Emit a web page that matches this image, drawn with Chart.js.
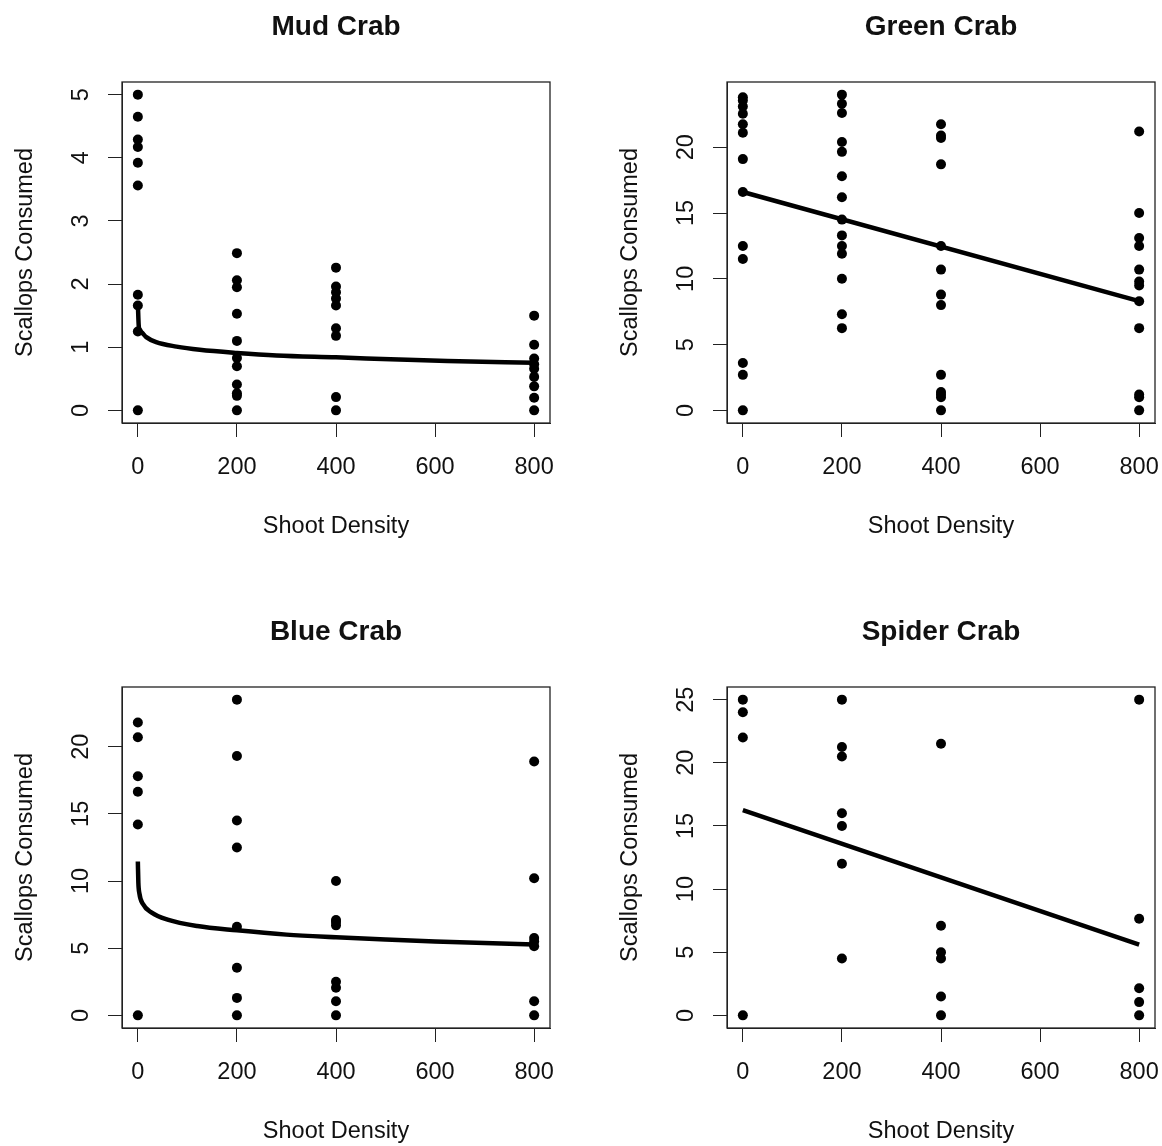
<!DOCTYPE html>
<html>
<head>
<meta charset="utf-8">
<script src="https://cdn.jsdelivr.net/npm/chart.js@4.4.1/dist/chart.umd.min.js"></script>
<style>
  html, body { margin: 0; padding: 0; background: #fff; overflow: hidden; }
  #wrap { position: relative; width: 1162px; height: 1146px; overflow: hidden; background: #fff; }
  #wrap canvas { position: absolute; }
</style>
</head>
<body>
<div id="wrap">
  <canvas id="mud" width="605" height="605" style="left:0;top:0"></canvas>
  <canvas id="green" width="605" height="605" style="left:605px;top:0"></canvas>
  <canvas id="blue" width="605" height="605" style="left:0;top:605px"></canvas>
  <canvas id="spider" width="605" height="605" style="left:605px;top:605px"></canvas>
</div>
<script>
// shoot density treatments and x axis ticks
const densities = [0, 200, 400, 800];
const xTicks = [0, 200, 400, 600, 800];

// Mud crab: scallops consumed per density
const mud0 = [5.0, 4.65, 4.29, 4.17, 3.92, 3.56, 1.83, 1.66, 1.25, 0];
const mud200 = [2.49, 2.06, 1.95, 1.53, 1.10, 0.83, 0.70, 0.41, 0.27, 0.23, 0];
const mud400 = [2.26, 1.96, 1.87, 1.77, 1.66, 1.30, 1.18, 0.21, 0];
const mud800 = [1.50, 1.04, 0.82, 0.73, 0.66, 0.53, 0.38, 0.20, 0];
const mudTicks = [0, 1, 2, 3, 4, 5];
const mudFitX = [0, 2, 7, 17, 37, 78, 125, 200, 280, 400, 510, 625, 800];
const mudFitY = [1.69, 1.32, 1.24, 1.16, 1.08, 1.01, 0.96, 0.91, 0.87, 0.84, 0.81, 0.78, 0.755];

// Green crab
const green0 = [23.8, 23.55, 23.1, 22.55, 21.75, 21.1, 19.1, 16.6, 12.5, 11.5, 3.6, 2.7, 0];
const green200 = [24.0, 23.3, 22.6, 20.4, 19.65, 17.8, 16.2, 14.5, 13.3, 12.5, 11.9, 10.0, 7.3, 6.25];
const green400 = [21.75, 20.9, 20.7, 18.7, 12.5, 10.7, 8.8, 8.0, 2.7, 1.4, 1.2, 1.0, 0];
const green800 = [21.2, 15.0, 13.1, 12.5, 10.7, 9.8, 9.5, 8.3, 6.25, 1.2, 1.0, 0];
const greenTicks = [0, 5, 10, 15, 20];
const greenFitX = [0, 800];
const greenFitY = [16.6, 8.3];

// Blue crab
const blue0 = [21.8, 20.7, 17.8, 16.65, 14.2, 0];
const blue200 = [23.5, 19.3, 14.5, 12.5, 6.6, 3.55, 1.3, 0];
const blue400 = [10.0, 7.1, 6.95, 6.7, 2.5, 2.05, 1.05, 0];
const blue800 = [18.9, 10.2, 5.75, 5.5, 5.15, 1.05, 0];
const blueTicks = [0, 5, 10, 15, 20];
const blueFitX = [0, 1, 3, 10, 28, 60, 120, 200, 300, 400, 500, 600, 800];
const blueFitY = [11.45, 9.9, 9.1, 8.3, 7.65, 7.13, 6.65, 6.33, 6.01, 5.81, 5.64, 5.49, 5.27];

// Spider crab
const spider0 = [25, 24, 22, 0];
const spider200 = [25, 21.25, 20.5, 16, 15, 12, 4.5];
const spider400 = [21.5, 7.1, 5, 4.5, 1.5, 0];
const spider800 = [25, 7.65, 2.15, 1.05, 0];
const spiderTicks = [0, 5, 10, 15, 20, 25];
const spiderFitX = [0, 800];
const spiderFitY = [16.25, 5.6];

const FONT = '"Liberation Sans", Arial, Helvetica, sans-serif';
const INK = '#111';

// box, rotated y labels and titles in the R base-graphics style
const rFrame = {
  id: 'rFrame',
  afterDraw(chart, args, opts) {
    const ctx = chart.ctx;
    const a = chart.chartArea;
    const ys = chart.scales.y;
    ctx.save();
    ctx.strokeStyle = '#222';
    ctx.lineWidth = 1.3;
    ctx.strokeRect(a.left, a.top, a.right - a.left, a.bottom - a.top);

    ctx.fillStyle = INK;
    ctx.font = '23.5px ' + FONT;
    ctx.textAlign = 'center';
    ctx.textBaseline = 'alphabetic';
    opts.yTicks.forEach(function (v) {
      ctx.save();
      ctx.translate(88, ys.getPixelForValue(v));
      ctx.rotate(-Math.PI / 2);
      ctx.fillText(String(v), 0, 0);
      ctx.restore();
    });

    const cx = (a.left + a.right) / 2;
    ctx.fillText('Shoot Density', cx, 533);
    ctx.save();
    ctx.translate(31.5, (a.top + a.bottom) / 2);
    ctx.rotate(-Math.PI / 2);
    ctx.fillText('Scallops Consumed', 0, 0);
    ctx.restore();

    ctx.font = 'bold 28px ' + FONT;
    ctx.fillText(opts.title, cx, 35);
    ctx.restore();
  }
};

function panel(canvasId, title, groups, yTicks, fitX, fitY) {
  const points = [];
  densities.forEach(function (d, i) {
    groups[i].forEach(function (v) { points.push({ x: d, y: v }); });
  });
  const fit = fitX.map(function (x, i) { return { x: x, y: fitY[i] }; });
  const all = groups.flat();
  const lo = Math.min.apply(null, all), hi = Math.max.apply(null, all);
  const yPad = (hi - lo) * 0.04;
  const xPad = (densities[densities.length - 1] - densities[0]) * 0.04;
  const axisGrid = { drawOnChartArea: false, drawTicks: true, tickLength: 14, color: '#222', lineWidth: 1 };

  new Chart(document.getElementById(canvasId), {
    type: 'scatter',
    data: {
      datasets: [{
        data: points,
        showLine: false,
        pointRadius: 5,
        pointBorderWidth: 0,
        pointBackgroundColor: '#000'
      }, {
        data: fit,
        showLine: true,
        borderColor: '#000',
        borderWidth: 4.5,
        pointRadius: 0,
        cubicInterpolationMode: 'monotone',
        fill: false
      }]
    },
    options: {
      responsive: false,
      animation: false,
      events: [],
      layout: { padding: { left: 0, top: 82, right: 55, bottom: 0 } },
      plugins: {
        legend: { display: false },
        tooltip: { enabled: false },
        rFrame: { title: title, yTicks: yTicks }
      },
      scales: {
        x: {
          type: 'linear',
          min: densities[0] - xPad,
          max: densities[densities.length - 1] + xPad,
          afterBuildTicks: function (s) { s.ticks = xTicks.map(function (v) { return { value: v }; }); },
          afterFit: function (s) { s.height = 182; },
          grid: axisGrid,
          border: { display: true, color: '#222', width: 1 },
          ticks: { font: { family: FONT, size: 23.5 }, color: INK, padding: 16, maxRotation: 0, autoSkip: false }
        },
        y: {
          type: 'linear',
          min: lo - yPad,
          max: hi + yPad,
          afterBuildTicks: function (s) { s.ticks = yTicks.map(function (v) { return { value: v }; }); },
          afterFit: function (s) { s.width = 122; },
          grid: axisGrid,
          border: { display: true, color: '#222', width: 1 },
          ticks: { display: false }
        }
      }
    },
    plugins: [rFrame]
  });
}

panel('mud', 'Mud Crab', [mud0, mud200, mud400, mud800], mudTicks, mudFitX, mudFitY);
panel('green', 'Green Crab', [green0, green200, green400, green800], greenTicks, greenFitX, greenFitY);
panel('blue', 'Blue Crab', [blue0, blue200, blue400, blue800], blueTicks, blueFitX, blueFitY);
panel('spider', 'Spider Crab', [spider0, spider200, spider400, spider800], spiderTicks, spiderFitX, spiderFitY);
</script>
</body>
</html>
